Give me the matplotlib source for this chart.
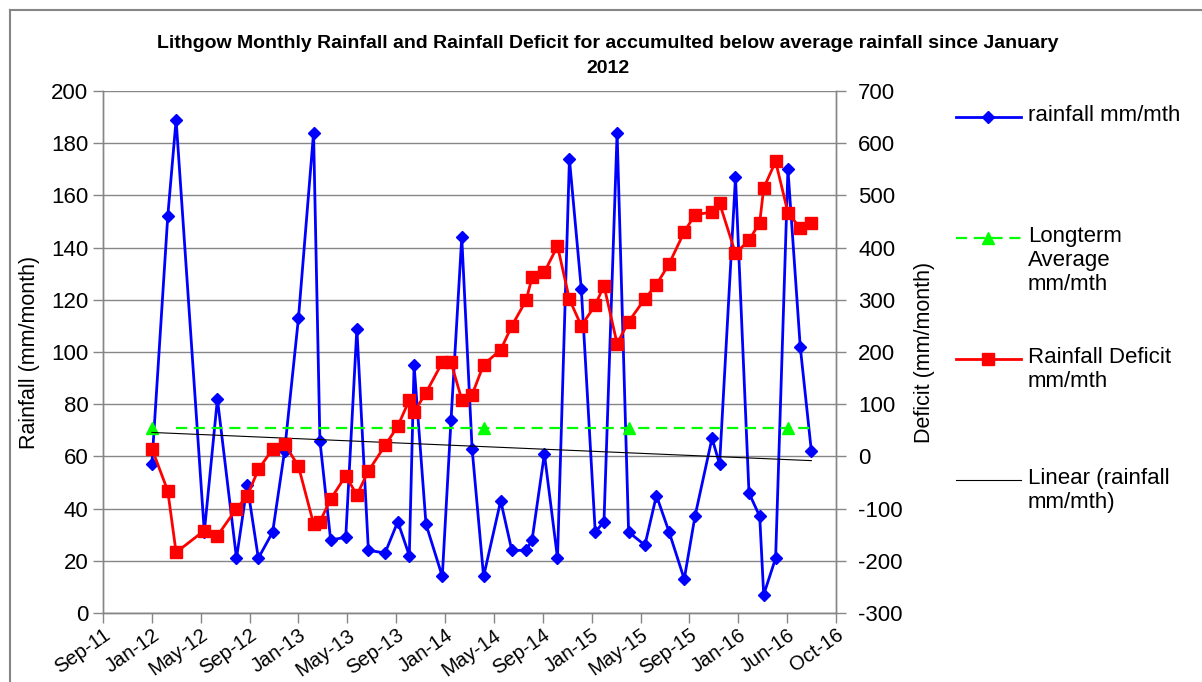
import numpy as np
import matplotlib
matplotlib.use("Agg")
import matplotlib.pyplot as plt
import matplotlib.dates as mdates
from matplotlib.lines import Line2D

plt.rcParams['font.family'] = ['Liberation Sans', 'DejaVu Sans']
plt.rcParams['axes.unicode_minus'] = False

# reading dates (irregular, roughly monthly)
dates = ['2012-01-16', '2012-02-25', '2012-03-17', '2012-05-27', '2012-06-29', '2012-08-16',
         '2012-09-12', '2012-10-10', '2012-11-15', '2012-12-15', '2013-01-19', '2013-02-26',
         '2013-03-14', '2013-04-10', '2013-05-18', '2013-06-15', '2013-07-14', '2013-08-25',
         '2013-09-26', '2013-10-25', '2013-11-06', '2013-12-06', '2014-01-16', '2014-02-07',
         '2014-03-06', '2014-04-01', '2014-04-30', '2014-06-12', '2014-07-10', '2014-08-15',
         '2014-08-30', '2014-09-30', '2014-11-02', '2014-12-02', '2015-01-01', '2015-02-05',
         '2015-02-27', '2015-04-01', '2015-04-30', '2015-06-10', '2015-07-09', '2015-08-10',
         '2015-09-17', '2015-10-14', '2015-11-26', '2015-12-15', '2016-01-24', '2016-02-27',
         '2016-03-25', '2016-04-04', '2016-05-04', '2016-06-04', '2016-07-05', '2016-08-02']

rainfall = [57, 152, 189, 31, 82, 21, 49, 21, 31, 62, 113, 184,
            66, 28, 29, 109, 24, 23, 35, 22, 95, 34, 14, 74,
            144, 63, 14, 43, 24, 24, 28, 61, 21, 174, 124, 31,
            35, 184, 31, 26, 45, 31, 13, 37, 67, 57, 167, 46,
            37, 7, 21, 170, 102, 62]

deficit = [15, -66, -184, -142, -152, -100, -76, -25, 14, 24, -19, -129,
           -125, -82, -37, -74, -28, 21, 58, 108, 85, 122, 180, 180,
           109, 118, 176, 204, 250, 299, 343, 353, 403, 301, 250, 290,
           327, 216, 258, 302, 329, 369, 430, 463, 468, 485, 389, 414,
           448, 514, 565, 467, 437, 448]

longterm_avg = 71
avg_marker_idx = [0, 26, 38, 51]

tick_labels = ['Sep-11', 'Jan-12', 'May-12', 'Sep-12', 'Jan-13', 'May-13', 'Sep-13', 'Jan-14',
               'May-14', 'Sep-14', 'Jan-15', 'May-15', 'Sep-15', 'Jan-16', 'Jun-16', 'Oct-16']

x = mdates.date2num(np.array(dates, dtype='datetime64[D]'))
axis_start = mdates.date2num(np.datetime64('2011-09-15'))
tick_pos = axis_start + 123 * np.arange(len(tick_labels))

avg = np.full(len(x), float(longterm_avg))
avg[1] = np.nan

fig = plt.figure(figsize=(12.02, 6.82), dpi=100)
ax = fig.add_axes([103 / 1202, 1 - 613 / 682, (836 - 103) / 1202, (613 - 91) / 682])
ax2 = ax.twinx()

grey = '#868686'

# trend line
coef = np.polyfit(x, rainfall, 1)
trend_x = np.array([x[0], x[-1]])

ax.plot(x, rainfall, color='#0000FF', lw=2.0, marker='D', ms=6, zorder=3)
ax.plot(x, avg, color='#00FF00', lw=1.6, dashes=(5, 3), zorder=3)
ax.plot(x[avg_marker_idx], avg[avg_marker_idx], ls='none', marker='^', ms=8,
        color='#00FF00', zorder=3)
ax.plot(trend_x, np.polyval(coef, trend_x), color='black', lw=0.8, zorder=4)
ax2.plot(x, deficit, color='#FF0000', lw=2.0, marker='s', ms=9, zorder=3)

ax.set_xlim(tick_pos[0], tick_pos[-1])
ax.set_ylim(0, 200)
ax2.set_ylim(-300, 700)
ax.set_yticks(np.arange(0, 201, 20))
ax2.set_yticks(np.arange(-300, 701, 100))
ax.set_xticks(tick_pos)
ax.set_xticklabels(tick_labels, rotation=35, ha='right', va='top', rotation_mode='anchor')

ax.yaxis.grid(True, color=grey, lw=1.0)
ax.set_axisbelow(True)
for a in (ax, ax2):
    a.spines['top'].set_visible(False)
    for s in ('left', 'right', 'bottom'):
        a.spines[s].set_color(grey)
        a.spines[s].set_linewidth(1.0)
    a.tick_params(colors=grey, labelcolor='black', labelsize=16, length=7, width=1.0)
ax.tick_params(axis='x', labelsize=14.5, pad=2)
ax2.tick_params(axis='y', pad=9)

ax.set_ylabel('Rainfall (mm/month)', fontsize=15.5, labelpad=8)
ax2.set_ylabel('Deficit (mm/month)', fontsize=15.5, labelpad=8)

fig.text(608 / 1202, 1 - 56 / 682,
         'Lithgow Monthly Rainfall and Rainfall Deficit for accumulted below average rainfall since January\n2012',
         ha='center', va='center', fontsize=14, fontweight='bold', linespacing=1.55)

# legend drawn by hand so handles sit on the first text line
def fy(py):
    return 1 - py / 682

entries = [
    (117, '#0000FF', 2.0, None, 'D', 6, 'rainfall mm/mth'),
    (238, '#00FF00', 1.6, (5, 3), '^', 8, 'Longterm\nAverage\nmm/mth'),
    (359, '#FF0000', 2.0, None, 's', 9, 'Rainfall Deficit\nmm/mth'),
    (480, 'black', 0.8, None, None, 0, 'Linear (rainfall\nmm/mth)'),
]
for py, col, lw, dash, mk, ms, label in entries:
    h = Line2D([956 / 1202, 1021 / 1202], [fy(py), fy(py)], color=col, lw=lw)
    if dash:
        h.set_dashes(dash)
    fig.add_artist(h)
    if mk:
        fig.add_artist(Line2D([988 / 1202], [fy(py)], ls='none', marker=mk, ms=ms, color=col))
    fig.text(1028 / 1202, fy(py - 12), label, ha='left', va='top', fontsize=16, linespacing=1.18)

# chart border
fig.add_artist(Line2D([10 / 1202, 10 / 1202], [0, fy(10)], color=grey, lw=1.5))
fig.add_artist(Line2D([10 / 1202, 1], [fy(10), fy(10)], color=grey, lw=1.5))

fig.savefig('out.png', dpi=100)
